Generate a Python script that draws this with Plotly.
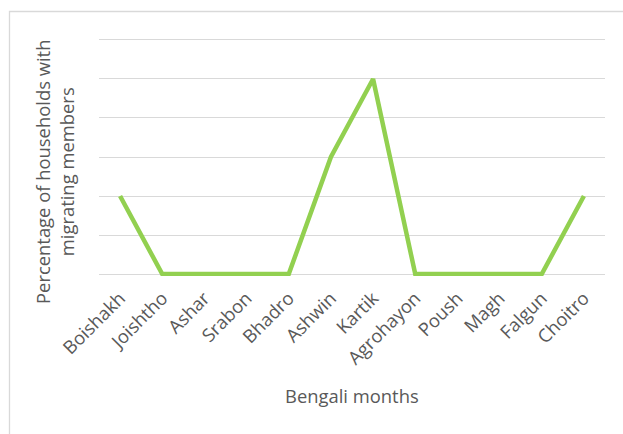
import plotly.graph_objects as go

months = ["Boishakh", "Joishtho", "Ashar", "Srabon", "Bhadro", "Ashwin",
          "Kartik", "Agrohayon", "Poush", "Magh", "Falgun", "Choitro"]
values = [2, 0, 0, 0, 0, 3, 5, 0, 0, 0, 0, 2]

W, H = 623, 434
L, R, T, B = 99, 18, 38, 158
pw, ph = W - L - R, H - T - B
pad = 0.05

fig = go.Figure(go.Scatter(
    x=list(range(len(months))), y=values, mode="lines",
    line=dict(color="#92D050", width=4.5), hoverinfo="skip"))

font = "'Open Sans', sans-serif"
fs = 18.4
fig.update_layout(
    width=W, height=H, margin=dict(l=L, r=R, t=T, b=B, autoexpand=False),
    paper_bgcolor="white", plot_bgcolor="white", showlegend=False,
    font=dict(family=font, color="#595959"),
    xaxis=dict(range=[-0.5, 11.5], tickmode="array", automargin=False,
               tickvals=list(range(len(months))), ticktext=months,
               tickangle=-45, tickfont=dict(size=fs, color="#595959"),
               ticklabelstandoff=7,
               showgrid=False, zeroline=False, showline=False, ticks=""),
    yaxis=dict(range=[-pad, 6 + pad], tickmode="array", tickvals=[0, 1, 2, 3, 4, 5, 6],
               showticklabels=False, automargin=False,
               gridcolor="#d9d9d9", gridwidth=1.3, zeroline=False, showline=False),
    annotations=[
        dict(text="Percentage of households with<br>migrating members",
             xref="paper", yref="paper", x=(54 - L) / pw, y=(T + ph - 172) / ph,
             textangle=-90, showarrow=False, font=dict(size=fs, color="#595959"),
             xanchor="center", yanchor="middle"),
        dict(text="Bengali months", xref="paper", yref="paper",
             x=(352 - L) / pw, y=-(395 - (T + ph)) / ph, showarrow=False,
             font=dict(size=fs, color="#595959"), xanchor="center", yanchor="middle"),
    ],
    shapes=[dict(type="rect", xref="paper", yref="paper",
                 x0=(9.5 - L) / pw, x1=(W + 10 - L) / pw,
                 y0=-(H + 10 - (T + ph)) / ph, y1=1 + (T - 11.5) / ph,
                 line=dict(color="#d9d9d9", width=1.3))],
)
fig.write_html("out.html", config={"displayModeBar": False},
               post_script="document.body.style.margin='0';")
